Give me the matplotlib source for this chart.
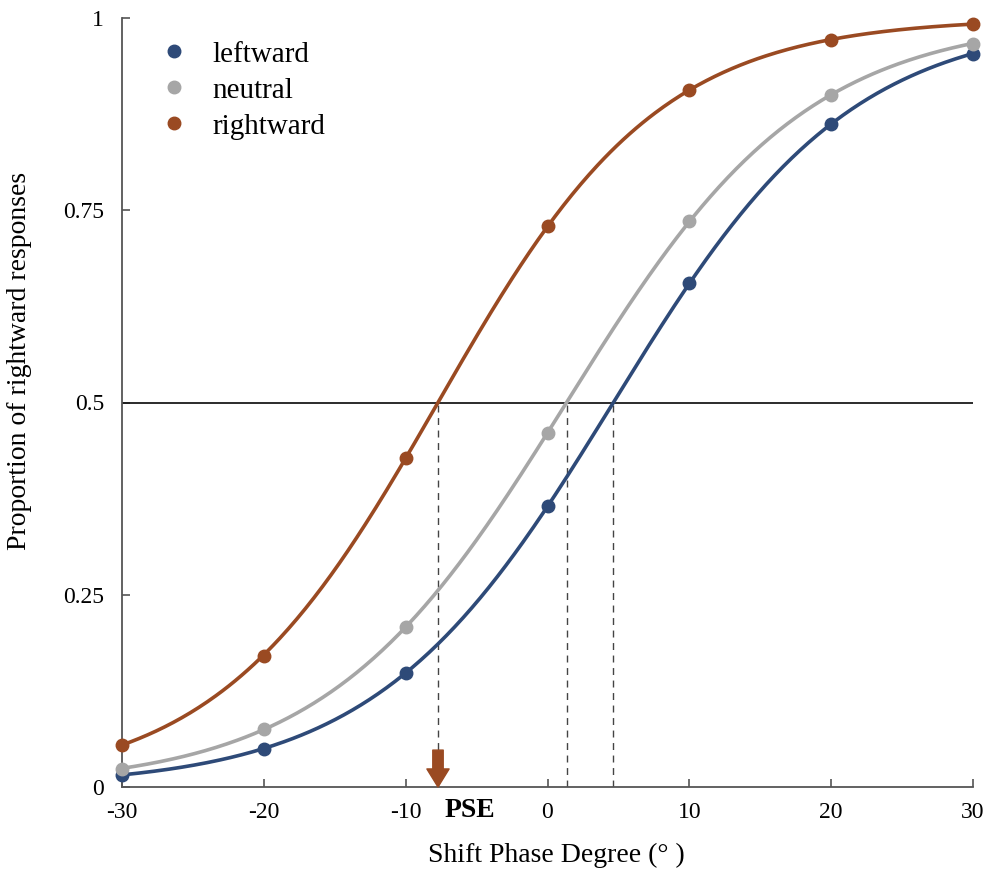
import numpy as np
import matplotlib
matplotlib.use("Agg")
import matplotlib.pyplot as plt
from matplotlib.patches import FancyArrowPatch
from matplotlib.lines import Line2D

# ---- data ----
shift_deg = [-30, -20, -10, 0, 10, 20, 30]
leftward = [0.015, 0.050, 0.148, 0.365, 0.655, 0.862, 0.953]
neutral = [0.024, 0.075, 0.208, 0.460, 0.736, 0.900, 0.966]
rightward = [0.055, 0.171, 0.428, 0.729, 0.906, 0.971, 0.992]
series_names = ["leftward", "neutral", "rightward"]
series_colors = ["#2E4A78", "#A6A6A6", "#9A4A22"]
x_ticks = [-30, -20, -10, 0, 10, 20, 30]
x_tick_labels = ["-30", "-20", "-10", "0", "10", "20", "30"]
y_ticks = [0, 0.25, 0.5, 0.75, 1]
y_tick_labels = ["0", "0.25", "0.5", "0.75", "1"]

plt.rcParams['font.family'] = ['Liberation Serif', 'DejaVu Serif']


def fit_logistic(x, p):
    x = np.asarray(x, float)
    p = np.asarray(p, float)
    # initial guess from logit regression
    lg = np.log(p / (1 - p))
    b1, b0 = np.polyfit(x, lg, 1)
    for _ in range(50):
        z = b0 + b1 * x
        f = 1 / (1 + np.exp(-z))
        r = p - f
        d = f * (1 - f)
        J = np.column_stack([d, d * x])
        step, *_ = np.linalg.lstsq(J, r, rcond=None)
        b0 += step[0]
        b1 += step[1]
    return b0, b1


fig = plt.figure(figsize=(9.92, 8.74), dpi=100)
ax = fig.add_axes([122 / 992, 87 / 874, 851 / 992, 769 / 874])

xs = np.linspace(-30, 30, 400)
handles = []
pses = []
for name, vals, col in zip(series_names, [leftward, neutral, rightward], series_colors):
    b0, b1 = fit_logistic(shift_deg, vals)
    pse = -b0 / b1
    pses.append(pse)
    ax.plot(xs, 1 / (1 + np.exp(-(b0 + b1 * xs))), color=col, lw=2.6, zorder=3, clip_on=False)
    ax.plot(shift_deg, vals, 'o', color=col, ms=9, zorder=4, clip_on=False)
    handles.append(Line2D([], [], marker='o', ls='none', color=col, ms=9, label=name))

ax.axhline(0.5, color='#1a1a1a', lw=1.3, zorder=2)
for pse in pses:
    ax.plot([pse, pse], [0, 0.5], ls=(0, (5, 4)), color='#444444', lw=1.0, zorder=1)

# arrow at rightward PSE
arr = FancyArrowPatch((pses[2], 0.048), (pses[2], 0.0),
                      arrowstyle="simple,head_length=1.3,head_width=1.6,tail_width=0.75",
                      mutation_scale=10, color=series_colors[2], shrinkA=0, shrinkB=0,
                      zorder=5, clip_on=False)
ax.add_patch(arr)
ax.text(-5.45, -0.030, "PSE", fontsize=20, fontweight='bold', ha='center', va='center',
        clip_on=False)

ax.set_xlim(-30, 30)
ax.set_ylim(0, 1)
ax.set_xticks(x_ticks)
ax.set_xticklabels(x_tick_labels)
ax.set_yticks(y_ticks)
ax.set_yticklabels(y_tick_labels)
for s in ['top', 'right']:
    ax.spines[s].set_visible(False)
for s in ['left', 'bottom']:
    ax.spines[s].set_color('#555555')
    ax.spines[s].set_linewidth(1.3)
ax.tick_params(direction='in', length=6, width=1.2, color='#555555', labelsize=17)
ax.tick_params(axis='y', pad=13)
ax.tick_params(axis='x', pad=11)

ax.set_xlabel("Shift Phase Degree (° )", fontsize=20)
ax.set_ylabel("Proportion of rightward responses", fontsize=20)
ax.xaxis.set_label_coords(0.51, -0.072)
ax.yaxis.set_label_coords(-0.106, 0.554)

ax.legend(handles=handles, loc='upper left', bbox_to_anchor=(0.034, 0.985), frameon=False,
          fontsize=21, handlelength=0.8, handletextpad=0.9, labelspacing=0.33, borderaxespad=0)

fig.savefig("out.png", dpi=100)
